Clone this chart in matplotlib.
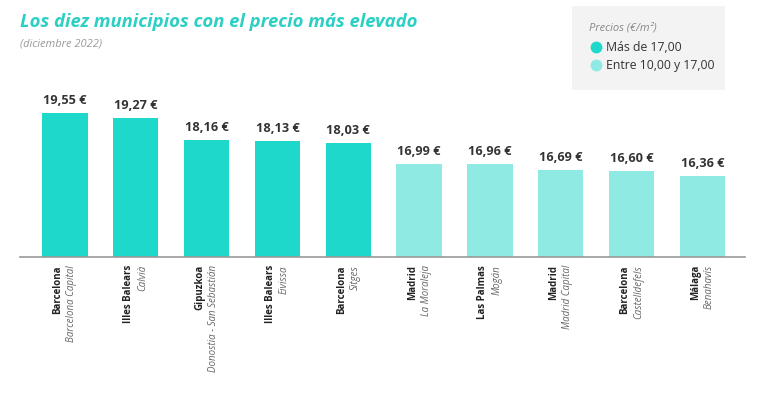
import matplotlib
matplotlib.use("Agg")
import matplotlib.pyplot as plt
from matplotlib.transforms import offset_copy
from matplotlib.lines import Line2D

provincias = ["Barcelona", "Illes Balears", "Gipuzkoa", "Illes Balears", "Barcelona",
              "Madrid", "Las Palmas", "Madrid", "Barcelona", "Málaga"]
municipios = ["Barcelona Capital", "Calvià", "Donostia - San Sebastián", "Eivissa", "Sitges",
              "La Moraleja", "Mogán", "Madrid Capital", "Castelldefels", "Benahavís"]
precios = [19.55, 19.27, 18.16, 18.13, 18.03, 16.99, 16.96, 16.69, 16.60, 16.36]

DARK = "#1ED9CB"
LIGHT = "#8EEAE3"
colores = [DARK if p > 17 else LIGHT for p in precios]

plt.rcParams['font.family'] = ['Open Sans', 'DejaVu Sans']

fig = plt.figure(figsize=(7.68, 3.97), dpi=100)
W, H = 768, 397
# axes: x 20..745 px, y 90..257 px
ax = fig.add_axes([20 / W, 1 - 257 / H, 725 / W, 167 / H])

x = list(range(len(precios)))
ax.bar(x, precios, width=0.64, color=colores)
ax.set_xlim(-0.635, 9.6)
ax.set_ylim(12.31, 20.68)

for xi, p in zip(x, precios):
    ax.text(xi, p + 0.3, f"{p:.2f} €".replace(".", ","), ha="center", va="bottom",
            fontsize=9.2, fontweight="bold", color="#333333")

for s in ["top", "right", "left"]:
    ax.spines[s].set_visible(False)
ax.spines["bottom"].set_color("#999999")
ax.spines["bottom"].set_linewidth(1.2)
ax.set_yticks([])
ax.set_xticks([])

# two-line rotated labels
trans = ax.get_xaxis_transform()
for xi, prov, mun in zip(x, provincias, municipios):
    t1 = offset_copy(trans, fig=fig, x=-7, y=-8, units="dots")
    t2 = offset_copy(trans, fig=fig, x=7, y=-8, units="dots")
    ax.text(xi, 0, prov, transform=t1, rotation=90, ha="center", va="top",
            fontsize=7, fontweight="bold", color="#222222",
            family=['Liberation Sans Narrow', 'Open Sans'])
    ax.text(xi, 0, mun, transform=t2, rotation=90, ha="center", va="top",
            fontsize=7, fontstyle="italic", color="#666666")

# title
fig.text(20 / W, 1 - 22 / H, "Los diez municipios con el precio más elevado",
         fontsize=13.3, fontweight="bold", fontstyle="italic", color="#2CCFC3",
         ha="left", va="center")
fig.text(20 / W, 1 - 44 / H, "(diciembre 2022)", fontsize=8, fontstyle="italic",
         color="#999999", ha="left", va="center")

# legend box
box = fig.add_axes([572 / W, 1 - 90 / H, 153 / W, 84 / H])
box.set_facecolor("#F3F3F3")
for s in box.spines.values():
    s.set_visible(False)
box.set_xticks([])
box.set_yticks([])
handles = [Line2D([], [], marker="o", linestyle="none", markersize=7.5, color=DARK),
           Line2D([], [], marker="o", linestyle="none", markersize=7.5, color=LIGHT)]
box.legend(handles, ["Más de 17,00", "Entre 10,00 y 17,00"], loc="upper left",
           bbox_to_anchor=(0.12, 0.58), frameon=False, fontsize=8.8, handletextpad=0.25,
           handlelength=1.0, labelspacing=0.4, borderaxespad=0, borderpad=0,
           labelcolor="#333333")
box.text(0.11, 0.74, "Precios (€/m²)", transform=box.transAxes, fontsize=8,
         fontstyle="italic", color="#888888", va="center")

fig.savefig("out.png", dpi=100, facecolor="white")
